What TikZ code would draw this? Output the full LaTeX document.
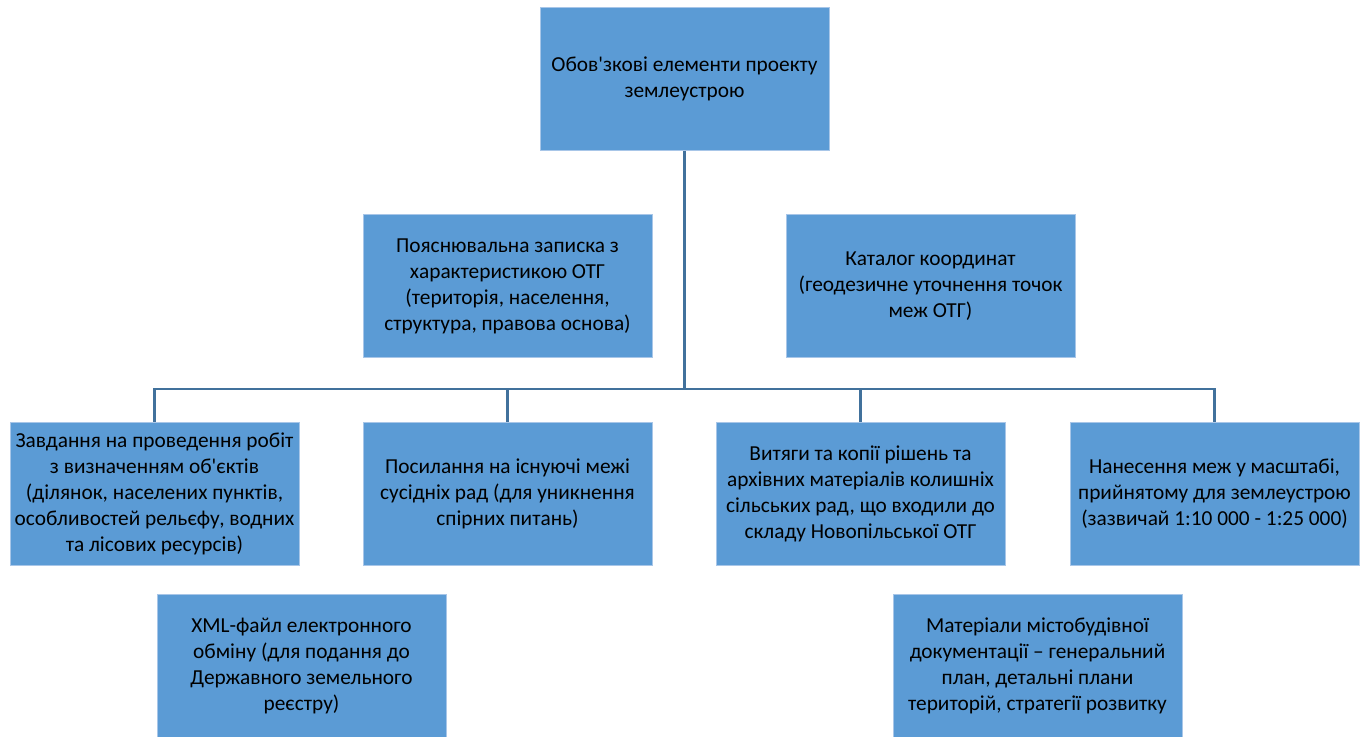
\documentclass[tikz,border=0pt]{standalone}
\usepackage{fontspec}
\setmainfont{Carlito}[Ligatures=TeXOff]
\definecolor{boxfill}{HTML}{5B9BD5}
\definecolor{boxline}{HTML}{A8C6E8}
\definecolor{conn}{HTML}{41719C}
\begin{document}
\begin{tikzpicture}[x=0.75pt,y=-0.75pt,
  box/.style={draw=boxline,line width=0.6pt,fill=boxfill,minimum width=289*0.75pt,minimum height=143*0.75pt,
    inner sep=2pt,align=center,font=\fontsize{16}{19.5}\selectfont,text=black},
  link/.style={draw=conn,line width=1.6pt}]
\useasboundingbox[fill=white] (0,0) rectangle (1367,737);
\node[box] (top) at (684.5,79) {Обов'зкові елементи проекту\\землеустрою};
\node[box] (m1) at (507.5,286) {Пояснювальна записка з\\характеристикою ОТГ\\(територія, населення,\\структура, правова основа)};
\node[box] (m2) at (930.5,286) {Каталог координат\\(геодезичне уточнення точок\\меж ОТГ)};
\node[box] (b1) at (154.5,493.5) {Завдання на проведення робіт\\з визначенням об'єктів\\(ділянок, населених пунктів,\\особливостей рельєфу, водних\\та лісових ресурсів)};
\node[box] (b2) at (507.5,493.5) {Посилання на існуючі межі\\сусідніх рад (для уникнення\\спірних питань)};
\node[box] (b3) at (860.5,493.5) {Витяги та копії рішень та\\архівних матеріалів колишніх\\сільських рад, що входили до\\складу Новопільської ОТГ};
\node[box] (b4) at (1214.5,493.5) {Нанесення меж у масштабі,\\прийнятому для землеустрою\\(зазвичай 1:10 000 - 1:25 000)};
\node[box] (c1) at (301.5,666) {XML-файл електронного\\обміну (для подання до\\Державного земельного\\реєстру)};
\node[box] (c2) at (1037.5,666) {Матеріали містобудівної\\документації – генеральний\\план, детальні плани\\територій, стратегії розвитку};
\coordinate (j) at (684.5,389);
\draw[link] (top.south) -- (j);
\draw[link] (b1.north) |- (j) -| (b4.north);
\draw[link] (b2.north) |- (j);
\draw[link] (b3.north) |- (j);
\end{tikzpicture}
\end{document}
